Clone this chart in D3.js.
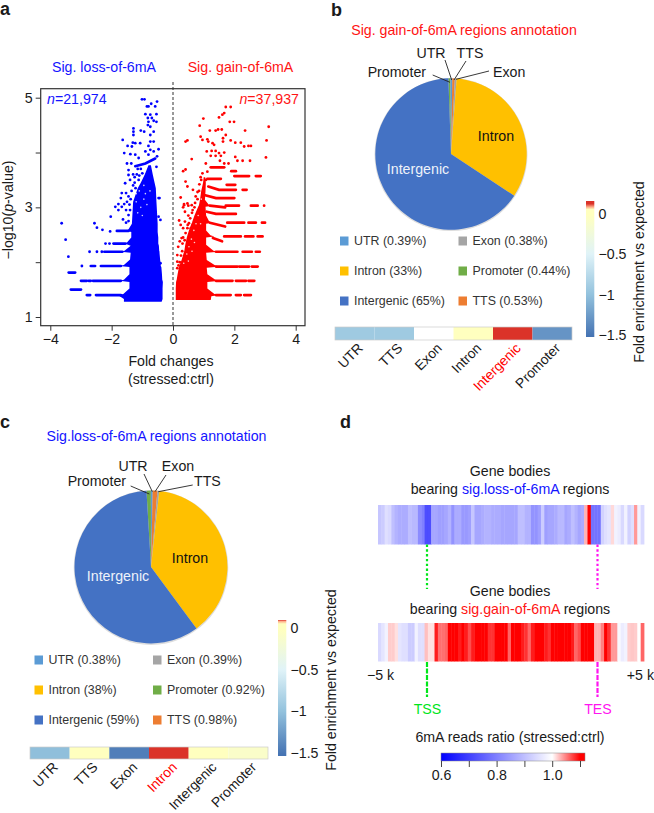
<!DOCTYPE html>
<html><head><meta charset="utf-8">
<script src="https://d3js.org/d3.v7.min.js"></script>
<style>html,body{margin:0;padding:0;background:#fff}svg{display:block}text{font-family:"Liberation Sans",Arial,sans-serif;fill:#1a1a1a}</style>
</head><body><div id="c"></div>
<script>
// ---------- panel a data (fold change, -log10 p)
const lossCore=[[1.28,-1.6,-.37],[1.33,-1.6,-.34],[1.40,-1.8,-.34],[1.42,-1.62,-.34],[1.52,-1.42,-.34],[1.64,-1.42,-.33],[1.66,-1.75,-.34],[1.68,-1.6,-.35],[1.78,-1.42,-.36],[1.91,-1.42,-.38],[1.93,-1.75,-.4],[1.95,-1.6,-.4],[2.05,-1.4,-.42],[2.17,-1.38,-.44],[2.19,-1.7,-.44],[2.21,-1.58,-.45],[2.3,-1.38,-.46],[2.34,-1.58,-.48],[2.36,-1.5,-.48],[2.45,-1.36,-.48],[2.55,-1.36,-.5],[2.57,-1.5,-.5],[2.6,-1.45,-.5],[2.7,-1.34,-.5],[2.9,-1.32,-.52],[3.1,-1.3,-.54],[3.35,-1.15,-.56],[3.45,-1.05,-.6],[3.6,-.92,-.66],[3.77,-.8,-.72]];
const gainCore=[[1.31,.09,1.23],[1.38,.09,1.25],[1.40,.09,1.5],[1.42,.09,1.35],[1.52,.09,1.12],[1.64,.1,1.12],[1.66,.11,1.55],[1.68,.12,1.38],[1.78,.15,1.12],[1.9,.19,1.1],[1.92,.2,1.55],[1.94,.21,1.38],[2.04,.28,1.1],[2.17,.35,1.08],[2.19,.36,1.5],[2.21,.37,1.32],[2.32,.4,1.08],[2.45,.45,1.08],[2.47,.46,1.35],[2.49,.47,1.22],[2.58,.52,1.08],[2.7,.6,1.08],[2.72,.62,1.28],[2.74,.63,1.18],[2.85,.7,1.08],[3.01,.82,1.06],[3.03,.84,1.28],[3.05,.85,1.16],[3.14,.88,1.04],[3.3,.92,1.06],[3.45,.98,1.07],[3.55,1.0,1.05]];
const lossBands=[
[[-2.81,1.4],[-2.7,1.4]],[[-2.51,1.4],[-1.7,1.4]],
[[-3.33,1.5],[-3.0,1.5]],
[[-3.0,1.66],[-2.81,1.66]],[[-2.75,1.66],[-2.68,1.66]],[[-2.61,1.66],[-1.7,1.66]],
[[-3.4,1.81],[-3.19,1.81]],
[[-2.68,1.93],[-2.54,1.93]],[[-2.35,1.93],[-1.7,1.93]],
[[-2.24,2.19],[-1.65,2.19]],
[[-1.94,2.34],[-1.55,2.34]],
[[-1.83,2.57],[-1.45,2.57]],
[[-1.23,3.75],[-.9,3.8],[-.58,3.89]]];
const lossPoints=[[-3.63,2.71],[-3.5,2.41],[-3.41,2.1],[-2.97,1.93],[-2.72,2.19],[-2.48,2.19],[-2.32,2.19],[-2.2,2.34],[-2.07,2.34],[-2.56,2.71],[-2.48,2.63],[-2.3,2.59],[-2.05,2.56],[-2.03,2.83],[-1.78,2.95],[-1.67,3.01],[-1.59,3.06],[-1.53,2.95],[-1.45,2.86],[-1.63,2.78],[-1.53,2.72],
[-1.01,4.97],[-.93,4.97],[-.52,4.93],[-.71,4.89],[-.8,4.84],[-.58,4.84],[-.85,4.84],[-.9,4.7],[-.74,4.69],[-.54,4.7],[-.82,4.63],[-.69,4.63],[-.8,4.56],[-.63,4.58],[-.54,4.56],[-.82,4.5],[-.74,4.47],[-1.29,4.44],[-1.05,4.4],[-.94,4.38],[-1.29,4.38],[-1.29,4.32],[-.63,4.38],[-.74,4.32],[-1.64,4.23],[-1.31,4.18],[-1.23,4.17],[-1.48,4.12],[-1.34,4.11],[-1.07,4.17],[-.74,4.2],[-.63,4.2],[-.8,4.12],[-1.59,3.99],[-1.39,3.97],[-1.23,3.96],[-.9,4.02],[-.74,4.05],[-.47,4.06],[-.63,4.02],[-1.12,3.9],[-.8,3.96],[-.52,3.93],[-1.5,3.8],[-1.36,3.8],[-1.45,3.68],[-1.45,3.59],[-.54,3.74],[-.47,3.17],[-1.56,3.44],[-1.67,3.26],[-1.7,3.17],[-1.78,3.06],[-1.88,3.01],[-1.53,3.26],[-.44,3.17],[-.47,2.83],[-.41,2.77],[-.41,1.98],
[-1.4,3.5],[-1.3,3.6],[-1.25,3.55],[-1.35,3.3],[-1.45,3.2],[-1.5,3.1],[-1.42,3.05],[-1.25,3.45],[-1.18,3.6],[-1.1,3.58],[-1.05,3.7],[-1.4,2.95],[-1.45,2.75],[-1.15,3.7],[-1.3,3.4],[-1.38,3.15],[-1.22,3.35],[-1.12,3.5],[-1.0,3.62]];
const lossGaps=[[-1.1,3.3],[-.95,3.15],[-1.2,3.1],[-1.05,3.0],[-.85,3.05],[-1.15,2.9],[-.9,3.25],[-1.0,2.85],[-.95,3.4],[-1.2,3.25],[-.75,3.3]];
const gainBands=[
[[1.4,1.4],[1.88,1.4]],[[2.05,1.4],[2.21,1.4]],[[2.32,1.4],[2.54,1.4]],
[[1.4,1.66],[1.94,1.66]],[[2.05,1.66],[2.38,1.66]],[[2.46,1.66],[2.65,1.66]],
[[1.4,1.92],[2.1,1.92]],[[2.16,1.92],[2.48,1.92]],[[2.57,1.92],[2.76,1.92]],
[[1.4,2.19],[2.1,2.19]],[[2.27,2.19],[2.57,2.19]],[[2.7,2.19],[2.83,2.19]],
[[1.3,2.44],[1.6,2.38]],[[1.67,2.47],[2.21,2.47]],[[2.35,2.47],[2.62,2.47]],[[2.76,2.47],[2.92,2.47]],
[[1.2,2.72],[1.7,2.65]],[[1.77,2.72],[2.32,2.72]],[[2.46,2.72],[2.7,2.72]],[[2.9,2.72],[3.0,2.72]],
[[1.1,2.92],[1.4,2.88],[2.05,2.88]],
[[1.2,3.03],[1.7,3.0]],[[1.72,3.03],[2.15,3.03]],[[2.54,3.03],[2.76,3.03]],
[[1.05,3.22],[1.4,3.17],[2.0,3.17]],
[[1.15,3.38],[1.5,3.32],[2.05,3.32]],[[2.27,3.32],[2.4,3.32]],
[[1.75,3.41],[2.03,3.41]],
[[1.12,3.52],[1.56,3.52]],[[2.0,3.57],[2.48,3.57]],[[2.7,3.57],[2.86,3.57]],
[[1.9,3.66],[2.05,3.66]],[[1.23,3.73],[1.67,3.73]]];
const gainPoints=[[1.72,4.83],[1.88,4.83],[1.67,4.72],[1.61,4.69],[1.5,4.64],[.99,4.62],[1.85,4.56],[1.99,4.56],[.87,4.49],[3.12,4.47],[1.2,4.4],[1.39,4.4],[1.47,4.42],[1.59,4.42],[2.35,4.4],[.9,4.29],[1.72,4.32],[1.12,4.24],[.96,4.23],[.47,4.22],[.41,4.2],[1.29,4.17],[1.15,4.2],[1.63,4.26],[1.63,4.2],[1.88,4.22],[2.03,4.18],[2.21,4.18],[3.05,4.22],[1.34,4.14],[2.32,4.11],[2.46,4.12],[2.54,4.12],[1.1,4.02],[1.26,4.03],[1.39,4.03],[1.5,3.99],[1.67,4],[1.23,3.94],[1.39,3.94],[1.56,3.94],[2.03,3.92],[3.03,3.91],[.61,3.88],[1.53,3.85],[2.1,3.85],[2.27,3.85],[2.51,3.85],[1.81,3.8],[1.67,3.8],[1.07,3.8],[.41,3.69],[.33,3.66],[1.12,3.65],[.96,3.62],[.9,3.55],[.41,3.47],[1.07,3.5],[.47,3.38],[.65,3.32],[.25,3.18],[.74,3.2],[.47,3.07],[.36,3.04],[.2,2.76],[.39,2.74],[.52,2.71],[.25,2.68],[.33,2.62],[.47,2.62],[.61,3.04],[.36,3.06],[.5,3.03],[.33,3],[.39,2.92],[.22,2.38],[.41,2.53],[.28,2.44],[.14,2.13],[.14,2.01],[.14,1.89],[.17,2.28],[.31,2.34],[2.97,3.03],[.85,3.3],[.8,3.15],[.7,3.0],[.62,2.9],[.5,2.85],
[.56,2.8],[.48,2.68],[.38,2.4],[.33,2.45],[.3,2.2],[.26,2.12],[.22,2.0],[.18,1.94],[.58,2.62],[.64,2.95],[.72,3.08],[.8,3.28],[.86,3.42],[.92,3.5]];
const gainGaps=[[.45,2.15],[.52,2.28],[.6,2.42],[.68,2.58],[.75,2.7],[.82,2.85],[.35,1.98],[.5,2.02],[.62,2.2],[.7,2.36],[.92,3.15],[.9,2.7]];
const xTicks=[-4,-2,0,2,4], yTicks=[1,2,3,4,5], yLabelled=[1,3,5];

// ---------- panels b / c data
const regions=["Promoter","UTR","TTS","Exon","Intron","Intergenic"];
const regionColors=["#70ad47","#5b9bd5","#ed7d31","#a5a5a5","#ffc000","#4472c4"];
const gainShares=[0.44,0.39,0.53,0.38,33,65];
const lossShares=[0.92,0.38,0.98,0.39,38,59];
const gainLegendCol1=["UTR (0.39%)","Intron (33%)","Intergenic (65%)"], gainLegendCol2=["Exon (0.38%)","Promoter (0.44%)","TTS (0.53%)"];
const lossLegendCol1=["UTR (0.38%)","Intron (38%)","Intergenic (59%)"], lossLegendCol2=["Exon (0.39%)","Promoter (0.92%)","TTS (0.98%)"];
const legendCol1Colors=["#5b9bd5","#ffc000","#4472c4"], legendCol2Colors=["#a5a5a5","#70ad47","#ed7d31"];
const gainBarCats=["UTR","TTS","Exon","Intron","Intergenic","Promoter"];
const gainBarVals=[-.92,-.92,null,-.02,.2,-1.3];
const lossBarCats=["UTR","TTS","Exon","Intron","Intergenic","Promoter"];
const lossBarVals=[-1.02,-.02,-1.45,.2,-.02,-.1];
const enrichStops=[-1.52,-1.0,-.5,-.02,.05,.08,.12];
const enrichColors=["#4573b3","#93c2dd","#e0f3f8","#ffffbf","#ffffbf","#fdae8a","#db3329"];
const enrichTicks=[0,-.5,-1,-1.5];

// ---------- panel d data (6mA reads ratio per bin)
const lossStrip=[.91,.92,.95,.94,.90,.88,.87,.87,.87,.9,.89,.89,.82,.8,.72,.72,.86,.86,.85,.85,.86,.88,.83,.87,.87,.84,.84,.85,.91,.86,.86,.87,.88,.88,.87,.87,.87,.86,.86,.86,.86,.86,.9,.9,.88,.88,.83,.83,.85,.92,.85,.86,.86,.87,.89,.89,.86,.87,.9,.88,.86,.87,1.03,1.1,.78,.78,.78,.93,.95,.96,1.015,.98,.97,.94,.98,.93,.95,1.04,.98,.94];
const gainStrip=[.94,.96,.98,1.02,1.02,1.012,.96,.95,.95,.92,.92,.98,.95,.95,1.025,1.012,1.012,1.09,1.056,1.056,1.06,1.1,1.1,1.1,1.09,1.1,1.09,1.07,1.09,1.1,1.1,1.1,1.1,1.08,1.08,1.1,1.1,1.1,1.1,1.06,1.1,1.1,1.1,1.09,1.08,1.06,1.09,1.1,1.1,1.1,1.09,1.08,1.1,1.1,1.1,1.1,1.1,1.1,1.09,1.06,1.07,1.1,1.1,1.1,1.1,1.03,1.03,1.05,1.1,1.08,1.04,1.04,.99,.97,.98,1.02,1.022,1.02,1.0,1.06];
const ratioTicks=[.6,.7,.8,.9,1.0,1.1], ratioLabelled=[.6,.8,1.0];

const W=654,H=813,FS=14.2;
const svg=d3.select("#c").append("svg").attr("width",W).attr("height",H);
function T(x,y,s,o={}){const t=svg.append("text").attr("x",x).attr("y",y).attr("font-size",o.fs||FS).attr("text-anchor",o.a||"start").style("fill",o.c||"#1a1a1a");if(o.w)t.attr("font-weight",o.w);if(o.r!=null)t.attr("transform",`rotate(${o.r} ${x} ${y})`);if(s!=null)t.text(s);return t;}
const BLUE="#1414ff",RED="#ff1414";
const defs=svg.append("defs");
defs.append("filter").attr("id","soft").attr("x","-5%").attr("width","110%").append("feGaussianBlur").attr("stdDeviation","0.7 0");

// ===== panel labels
T(0,15,"a",{fs:18,w:"bold"});T(331,16,"b",{fs:18,w:"bold"});T(0,428,"c",{fs:18,w:"bold"});T(340,428,"d",{fs:18,w:"bold"});

// ===== a
const x=d3.scaleLinear().domain([-4,4]).range([50.3,295.7]);
const y=d3.scaleLinear().domain([1,5]).range([317,97.7]);
function volcano(core,bands,pts,gaps,col){
  const g=svg.append("g").attr("fill",col);
  g.append("path").attr("d",d3.area().y(d=>y(d[0])).x0(d=>x(d[1])).x1(d=>x(d[2])).curve(d3.curveLinear)(core));
  const ln=d3.line().x(d=>x(d[0])).y(d=>y(d[1]));
  svg.append("g").selectAll("path").data(bands).join("path").attr("d",ln).attr("fill","none").attr("stroke",col).attr("stroke-width",2.7).attr("stroke-linecap","round");
  svg.append("g").selectAll("circle").data(pts).join("circle").attr("cx",d=>x(d[0])).attr("cy",d=>y(d[1])).attr("r",1.4).attr("fill",col);
  svg.append("g").selectAll("circle").data(gaps).join("circle").attr("cx",d=>x(d[0])).attr("cy",d=>y(d[1])).attr("r",.8).attr("fill","#fff").attr("opacity",.8);
}
volcano(lossCore,lossBands,lossPoints,lossGaps,"#0000ff");
volcano(gainCore,gainBands,gainPoints,gainGaps,"#ff0000");
svg.append("line").attr("x1",x(0)).attr("x2",x(0)).attr("y1",82).attr("y2",325).attr("stroke","#333").attr("stroke-width",1).attr("stroke-dasharray","3,2");
svg.append("rect").attr("x",40.7).attr("y",88.7).attr("width",264.3).attr("height",237).attr("fill","none").attr("stroke","#333").attr("stroke-width",1.2);
const ax=svg.append("g").attr("transform","translate(0,325.7)").call(d3.axisBottom(x).tickValues(xTicks).tickSize(5).tickPadding(3).tickFormat(d=>d<0?"\u2212"+(-d):d));
const ay=svg.append("g").attr("transform","translate(40.7,0)").call(d3.axisLeft(y).tickValues(yTicks).tickSize(5).tickPadding(3).tickFormat(d=>yLabelled.includes(d)?d:""));
[ax,ay].forEach(a=>{a.select(".domain").remove();a.selectAll("line").attr("stroke","#333");a.selectAll("text").attr("font-size",FS).style("fill","#1a1a1a").style("font-family",'"Liberation Sans"');});
T(104,72,"Sig. loss-of-6mA",{a:"middle",c:BLUE});
T(240.5,72,"Sig. gain-of-6mA",{a:"middle",c:RED});
const n1=T(47,104,null,{c:BLUE});n1.append("tspan").attr("font-style","italic").text("n");n1.append("tspan").text("=21,974");
const n2=T(299,104,null,{c:RED,a:"end"});n2.append("tspan").attr("font-style","italic").text("n");n2.append("tspan").text("=37,937");
const yt=T(13,210,null,{a:"middle",r:-90});yt.append("tspan").text("\u2212log10(");yt.append("tspan").attr("font-style","italic").text("p");yt.append("tspan").text("-value)");
T(171,366,"Fold changes",{a:"middle"});T(171,384,"(stressed:ctrl)",{a:"middle"});

// ===== b / c
const enrich=d3.scaleLinear().domain(enrichStops).range(enrichColors).clamp(true);
let gid=0;
function annot(o){
  T(o.titleX,o.titleY,o.title,{c:o.titleC,a:"middle"});
  const pie=d3.pie().sort(null).value(d=>d).startAngle(o.start*Math.PI/180).endAngle((o.start+360)*Math.PI/180)(o.shares);
  const arc=d3.arc().innerRadius(0).outerRadius(o.r);
  svg.append("circle").attr("cx",o.cx).attr("cy",o.cy+.6).attr("r",o.r+.8).attr("fill","#ddd");
  svg.append("g").attr("transform",`translate(${o.cx},${o.cy})`).selectAll("path").data(pie).join("path").attr("d",arc).attr("fill",(d,i)=>regionColors[i]);
  o.leaders.forEach(l=>svg.append("line").attr("x1",l[0]).attr("y1",l[1]).attr("x2",l[2]).attr("y2",l[3]).attr("stroke","#222").attr("stroke-width",.9));
  o.labels.forEach(l=>T(l[0],l[1],l[2],{a:l[3]}));
  T(o.intron[0],o.intron[1],"Intron",{a:"middle",c:"#111"});
  T(o.inter[0],o.inter[1],"Intergenic",{a:"middle",c:"#eef2fa"});
  [[o.col1,legendCol1Colors,o.sw1],[o.col2,legendCol2Colors,o.sw2]].forEach(([txt,cols,sx])=>{
    txt.forEach((s,i)=>{const yy=o.legY[i];
      svg.append("rect").attr("x",sx).attr("y",yy-4.5).attr("width",8.5).attr("height",9).attr("fill",cols[i]);
      T(sx+14,yy+4.3,s,{fs:12.4,c:"#333"});});
  });
  const bx=d3.scaleBand().domain(o.cats).range(o.bar);
  svg.append("g").selectAll("rect").data(o.cats).join("rect").attr("x",d=>bx(d)).attr("y",o.barY[0]).attr("width",bx.bandwidth()).attr("height",o.barY[1]-o.barY[0]).attr("fill",(d,i)=>o.vals[i]==null?"#fff":enrich(o.vals[i]));
  svg.append("rect").attr("x",o.bar[0]).attr("y",o.barY[0]).attr("width",o.bar[1]-o.bar[0]).attr("height",o.barY[1]-o.barY[0]).attr("fill","none").attr("stroke","#ccc").attr("stroke-width",.7);
  o.cats.forEach(c=>{T(bx(c)+bx.bandwidth()/2+9,o.barY[1]+9,c,{a:"end",r:-45,fs:13.8,c:c===o.hot?"#ff0000":"#1a1a1a"});});
  const cs=d3.scaleLinear().domain([-1.5,0]).range(o.cbY);
  const id="g"+(gid++);
  const grad=defs.append("linearGradient").attr("id",id).attr("x1",0).attr("x2",0).attr("y1",1).attr("y2",0);
  const lo=cs.invert(o.cbBox[1]),hi=cs.invert(o.cbBox[0]);
  enrichStops.forEach((v,i)=>grad.append("stop").attr("offset",Math.max(0,(v-lo)/(hi-lo))).attr("stop-color",enrichColors[i]));
  svg.append("rect").attr("x",o.cbX).attr("y",o.cbBox[0]).attr("width",8.3).attr("height",o.cbBox[1]-o.cbBox[0]).attr("fill",`url(#${id})`);
  enrichTicks.forEach(t=>T(o.cbX+12.5,cs(t)+5,t===0?"0":"\u2212"+(-t),{}));
  T(o.ftX,o.ftY,"Fold enrichment vs expected",{a:"middle",r:-90});
}
annot({title:"Sig. gain-of-6mA regions annotation",titleX:464,titleY:34.5,titleC:RED,shares:gainShares,start:-2,r:75.7,cx:451,cy:154,
 leaders:[[432.7,75,450,82.3],[445,60,451.7,80],[466,61,454,80],[489,71,456,79.3]],
 labels:[[431,58,"UTR","middle"],[470,58,"TTS","middle"],[426,77,"Promoter","end"],[493,77,"Exon","start"]],
 intron:[496,141],inter:[418,174],col1:gainLegendCol1,col2:gainLegendCol2,sw1:340,sw2:458.5,legY:[241,271,301],
 cats:gainBarCats,vals:gainBarVals,hot:"Intergenic",bar:[335,572],barY:[327,340],cbX:586,cbY:[335,213.5],cbBox:[201,337],ftX:644,ftY:272});
annot({title:"Sig.loss-of-6mA regions annotation",titleX:156.5,titleY:441,titleC:BLUE,shares:lossShares,start:-3.4,r:76.5,cx:151,cy:567,
 leaders:[[130.7,486,149.3,494],[144,474,152.3,491.7],[166,475,155,491.7],[192.7,485,158.3,491.7]],
 labels:[[133,471,"UTR","middle"],[178,471,"Exon","middle"],[126,486,"Promoter","end"],[194,486,"TTS","start"]],
 intron:[190,563],inter:[118,581],col1:lossLegendCol1,col2:lossLegendCol2,sw1:34.5,sw2:153,legY:[660,690,720],
 cats:lossBarCats,vals:lossBarVals,hot:"Intron",bar:[30,268],barY:[747,759],cbX:278,cbY:[753,628],cbBox:[620,756],ftX:336,ftY:680});

// ===== d
const ratio=d3.scaleLinear().domain([.6,1,1.1]).range(["#0000ff","#ffffff","#ff0000"]).clamp(true);
function strip(vals,y0,y1){
  const b=d3.scaleBand().domain(d3.range(vals.length)).range([378,644]);
  svg.append("g").attr("filter","url(#soft)").selectAll("rect").data(vals).join("rect").attr("x",(d,i)=>b(i)).attr("y",y0).attr("width",b.bandwidth()+.4).attr("height",y1-y0).attr("fill",d=>ratio(d));
}
T(510,476,"Gene bodies",{a:"middle"});
const s1=T(510,494,null,{a:"middle"});s1.append("tspan").text("bearing ");s1.append("tspan").style("fill",BLUE).text("sig.loss-of-6mA");s1.append("tspan").text(" regions");
strip(lossStrip,505,544.5);
T(510,596,"Gene bodies",{a:"middle"});
const s2=T(510,614,null,{a:"middle"});s2.append("tspan").text("bearing ");s2.append("tspan").style("fill",RED).text("sig.gain-of-6mA");s2.append("tspan").text(" regions");
strip(gainStrip,623,661.5);
[[427,"#00e61a","TSS"],[597.5,"#ff14f0","TES"]].forEach(([xx,c,lab])=>{
  svg.append("line").attr("x1",xx).attr("x2",xx).attr("y1",544.5).attr("y2",589).attr("stroke",c).attr("stroke-width",2.2).attr("stroke-dasharray","2.4,2.4");
  svg.append("line").attr("x1",xx).attr("x2",xx).attr("y1",662).attr("y2",697).attr("stroke",c).attr("stroke-width",2.2).attr("stroke-dasharray","5,1.5");
  T(xx+.5,714,lab,{a:"middle",c});
});
T(367,680,"\u22125 k");T(654,680,"+5 k",{a:"end"});
T(510,742,"6mA reads ratio (stressed:ctrl)",{a:"middle"});
const rx=d3.scaleLinear().domain([.6,1.1]).range([441,580]);
const rg=defs.append("linearGradient").attr("id","rg");
[.6,1,1.1].forEach(v=>rg.append("stop").attr("offset",(rx(v)-441)/(585-441)).attr("stop-color",ratio(v)));
svg.append("rect").attr("x",441).attr("y",753).attr("width",144).attr("height",8).attr("fill","url(#rg)").attr("stroke","#888").attr("stroke-width",.5);
const ra=svg.append("g").attr("transform","translate(0,761)").call(d3.axisBottom(rx).tickValues(ratioTicks).tickSize(6).tickPadding(3).tickFormat(d=>ratioLabelled.some(v=>Math.abs(v-d)<1e-6)?d3.format(".1f")(d):""));
ra.select(".domain").remove();ra.selectAll("line").attr("stroke","#444");ra.selectAll("text").attr("font-size",FS).style("fill","#1a1a1a").style("font-family",'"Liberation Sans"');
</script></body></html>
